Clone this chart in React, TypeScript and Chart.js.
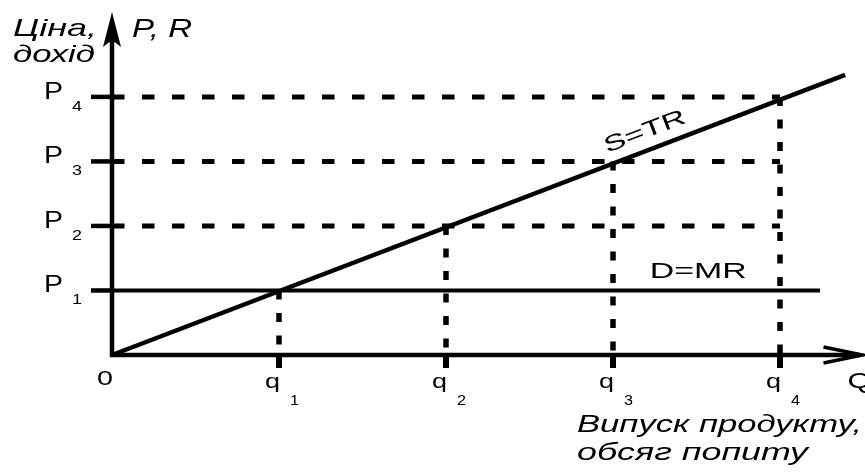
import React, { useEffect, useRef } from 'react';
import { Chart, registerables } from 'chart.js';

Chart.register(...registerables);

// ---- data ----
const qValues = [1, 2, 3, 4];
const pValues = [1, 2, 3, 4];
const qSubscripts = ['1', '2', '3', '4'];
const pSubscripts = ['1', '2', '3', '4'];
const trX = [0, 4.39]; // S = TR line
const trY = [0, 4.34];
const mrX = [0, 4.24]; // D = MR line
const mrPrice = 1; // at P1
const dashedPriceIdx = [1, 2, 3]; // P2..P4 dashed to q4
const dashedEndQ = 4;
const xMax = 4.5;
const yMax = 5.3;
const yTitleLines = ['Ціна,', 'дохід'];
const yTitleRight = 'P, R';
const xTitleLines = ['Випуск продукту,', 'обсяг попиту'];
const xAxisLetter = 'Q';
const originLabel = '0';
const trLabel = 'S=TR';
const mrLabel = 'D=MR';

function drawText(
  ctx: CanvasRenderingContext2D,
  text: string,
  x: number,
  y: number,
  size: number,
  width: number,
  italic = false,
  align: 'left' | 'center' = 'left'
) {
  ctx.save();
  ctx.font = `${italic ? 'italic ' : ''}${size}px "Liberation Sans", Arial, sans-serif`;
  const w = ctx.measureText(text).width;
  const sx = width / w;
  ctx.translate(x, y);
  ctx.scale(sx, 1);
  ctx.textBaseline = 'alphabetic';
  ctx.textAlign = align;
  ctx.fillStyle = '#000';
  ctx.fillText(text, 0, 0);
  ctx.restore();
}

const econPlugin = {
  id: 'econPlugin',
  afterDatasetsDraw(chart: any) {
    const { ctx, scales } = chart;
    const xs = scales.x;
    const ys = scales.y;
    const ox = xs.getPixelForValue(0);
    const oy = ys.getPixelForValue(0);
    const xEnd = xs.getPixelForValue(xMax);
    const tipY = ys.getPixelForValue(yMax) - 1;
    ctx.save();
    ctx.strokeStyle = '#000';
    ctx.fillStyle = '#000';
    ctx.lineCap = 'butt';

    // Y axis
    ctx.lineWidth = 4.5;
    ctx.beginPath();
    ctx.moveTo(ox, oy + 2);
    ctx.lineTo(ox, tipY + 28);
    ctx.stroke();
    ctx.beginPath();
    ctx.moveTo(ox, tipY);
    ctx.lineTo(ox - 9, tipY + 35);
    ctx.lineTo(ox, tipY + 28);
    ctx.lineTo(ox + 9, tipY + 35);
    ctx.closePath();
    ctx.fill();

    // X axis
    ctx.lineWidth = 4.5;
    ctx.beginPath();
    ctx.moveTo(ox - 2, oy);
    ctx.lineTo(xEnd - 4, oy);
    ctx.stroke();
    ctx.lineWidth = 3.5;
    ctx.beginPath();
    ctx.moveTo(xEnd - 40, oy - 8);
    ctx.lineTo(xEnd - 1, oy);
    ctx.lineTo(xEnd - 40, oy + 8);
    ctx.stroke();

    // Y ticks
    ctx.lineWidth = 4.5;
    pValues.forEach((p) => {
      const py = ys.getPixelForValue(p);
      ctx.beginPath();
      ctx.moveTo(ox - 21, py);
      ctx.lineTo(ox, py);
      ctx.stroke();
    });
    // X ticks
    ctx.lineWidth = 6;
    qValues.forEach((q) => {
      const qx = xs.getPixelForValue(q);
      ctx.beginPath();
      ctx.moveTo(qx, oy);
      ctx.lineTo(qx, oy + 13);
      ctx.stroke();
    });
    ctx.restore();

    // P labels
    pValues.forEach((p, i) => {
      const py = ys.getPixelForValue(p);
      drawText(ctx, 'P', ox - 68, py + 2, 23, 19);
      drawText(ctx, pSubscripts[i], ox - 40, py + 14, 14, 10);
    });
    // q labels
    qValues.forEach((q, i) => {
      const qx = xs.getPixelForValue(q);
      drawText(ctx, 'q', qx - 14, oy + 33, 21, 15);
      drawText(ctx, qSubscripts[i], qx + 11, oy + 50, 14, 9);
    });
    drawText(ctx, originLabel, ox - 15, oy + 30, 21, 16);
    drawText(ctx, xAxisLetter, xEnd - 16, oy + 33, 22, 24);

    // titles
    drawText(ctx, yTitleLines[0], 13, 36, 24, 84, true);
    drawText(ctx, yTitleLines[1], 13, 62, 24, 82, true);
    drawText(ctx, yTitleRight, ox + 20, 37, 25, 60, true);
    drawText(ctx, xTitleLines[0], 577, 432, 23, 285, true);
    drawText(ctx, xTitleLines[1], 577, 460, 23, 231, true);

    // D=MR
    drawText(ctx, mrLabel, xs.getPixelForValue(3.22), ys.getPixelForValue(mrPrice) - 12, 22, 97);

    // S=TR rotated
    const x0 = xs.getPixelForValue(trX[0]);
    const y0 = ys.getPixelForValue(trY[0]);
    const x1 = xs.getPixelForValue(trX[1]);
    const y1 = ys.getPixelForValue(trY[1]);
    const ang = Math.atan2(y1 - y0, x1 - x0);
    const t = 3.23 / trX[1];
    const ax = x0 + (x1 - x0) * t;
    const ay = y0 + (y1 - y0) * t;
    ctx.save();
    ctx.translate(ax, ay);
    ctx.rotate(ang);
    drawText(ctx, trLabel, 0, -12, 22, 86, false, 'center');
    ctx.restore();
  },
};

export default function App() {
  const ref = useRef<HTMLCanvasElement | null>(null);
  useEffect(() => {
    if (!ref.current) return;
    const line = (data: { x: number; y: number }[], width: number, dash: number[] = []) => ({
      data,
      showLine: true,
      borderColor: '#000',
      backgroundColor: '#000',
      borderWidth: width,
      borderDash: dash,
      borderCapStyle: 'butt',
      pointRadius: 0,
      pointHoverRadius: 0,
      clip: false,
      tension: 0,
    });
    const datasets: any[] = [];
    datasets.push(line(trX.map((x, i) => ({ x, y: trY[i] })), 4.5));
    datasets.push(line(mrX.map((x) => ({ x, y: mrPrice })), 4));
    dashedPriceIdx.forEach((i) => {
      datasets.push(line([{ x: 0, y: pValues[i] }, { x: dashedEndQ, y: pValues[i] }], 5, [12.5, 17.5]));
    });
    qValues.forEach((q, i) => {
      datasets.push(line([{ x: q, y: pValues[i] }, { x: q, y: 0 }], 5.5, [9, 13.5]));
    });
    const chart = new Chart(ref.current, {
      type: 'scatter',
      data: { datasets },
      options: {
        responsive: false,
        maintainAspectRatio: false,
        animation: false,
        devicePixelRatio: 1,
        layout: { padding: { left: 112, top: 13, right: 1.5, bottom: 118 } },
        scales: {
          x: { type: 'linear', min: 0, max: xMax, display: false },
          y: { type: 'linear', min: 0, max: yMax, display: false },
        },
        plugins: { legend: { display: false }, tooltip: { enabled: false } },
        events: [],
      },
      plugins: [econPlugin],
    } as any);
    return () => chart.destroy();
  }, []);
  return (
    <div style={{ position: 'fixed', left: 0, top: 0, width: 865, height: 473, background: '#fff' }}>
      <canvas ref={ref} width={865} height={473} style={{ display: 'block', width: 865, height: 473 }} />
    </div>
  );
}
